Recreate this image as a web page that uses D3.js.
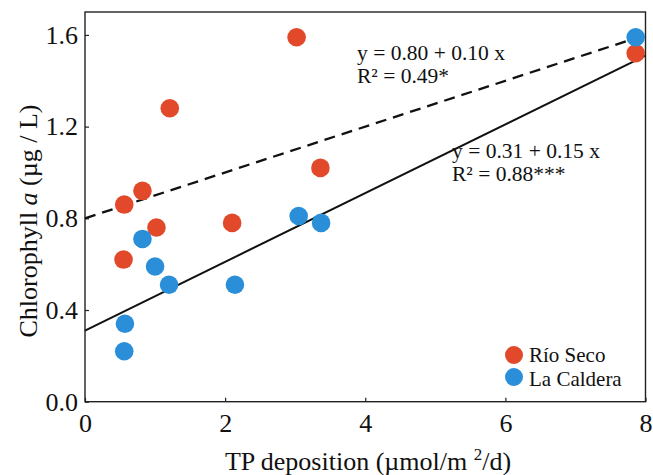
<!DOCTYPE html>
<html>
<head>
<meta charset="utf-8">
<script src="https://cdn.jsdelivr.net/npm/d3@7"></script>
<style>
  html, body { margin: 0; padding: 0; background: #fff; }
  svg { display: block; }
  text { font-family: "Liberation Serif", "Times New Roman", serif; fill: #111; }
</style>
</head>
<body>
<svg id="chart" width="653" height="475"></svg>
<script>
// TP deposition (x) and chlorophyll a (y) per lake
const rioSecoX = [0.55, 0.56, 0.82, 1.02, 1.21, 2.10, 3.02, 3.36, 7.86];
const rioSecoY = [0.62, 0.86, 0.92, 0.76, 1.28, 0.78, 1.59, 1.02, 1.52];
const calderaX = [0.57, 0.56, 0.82, 1.00, 1.20, 2.14, 3.05, 3.37, 7.86];
const calderaY = [0.34, 0.22, 0.71, 0.59, 0.51, 0.51, 0.81, 0.78, 1.59];

// Regression fits: [intercept, slope]
const fitRioSeco = [0.80, 0.10];
const fitCaldera = [0.31, 0.15];

const xTicks = [0, 2, 4, 6, 8];
const yTicks = [0.0, 0.4, 0.8, 1.2, 1.6];

const seriesNames = ["Río Seco", "La Caldera"];
const colors = { "Río Seco": "#e1492a", "La Caldera": "#2a8fd8" };

const svg = d3.select("#chart");
const plotLeft = 85, plotRight = 645.5, plotTop = 12, plotBottom = 401.7;

const x = d3.scaleLinear().domain([0, 8]).range([plotLeft, plotRight]);
const y = d3.scaleLinear().domain([0, 1.7]).range([plotBottom, plotTop]);

// Axes with short inward ticks
const xAxis = svg.append("g")
  .attr("transform", `translate(0,${plotBottom})`)
  .call(d3.axisBottom(x).tickValues(xTicks).tickFormat(d3.format("d"))
    .tickSizeInner(-4).tickSizeOuter(0).tickPadding(12));
const yAxis = svg.append("g")
  .attr("transform", `translate(${plotLeft},0)`)
  .call(d3.axisLeft(y).tickValues(yTicks).tickFormat(d3.format(".1f"))
    .tickSizeInner(-4).tickSizeOuter(0).tickPadding(7));

[xAxis, yAxis].forEach(g => {
  g.attr("font-family", null);
  g.select(".domain").remove();
  g.selectAll(".tick line").attr("stroke", "#222").attr("stroke-width", 1.2);
  g.selectAll(".tick text")
    .style("font-family", '"Liberation Serif", "Times New Roman", serif')
    .attr("font-size", 26).attr("fill", "#111");
});

// Frame
svg.append("rect")
  .attr("x", plotLeft).attr("y", plotTop)
  .attr("width", plotRight - plotLeft).attr("height", plotBottom - plotTop)
  .attr("fill", "none").attr("stroke", "#222").attr("stroke-width", 1.4);

// Regression lines
const line = d3.line().x(d => x(d[0])).y(d => y(d[1]));
const fitPts = f => [0, 8].map(v => [v, f[0] + f[1] * v]);

svg.append("path")
  .datum(fitPts(fitRioSeco))
  .attr("d", line)
  .attr("fill", "none").attr("stroke", "#111")
  .attr("stroke-width", 2.3).attr("stroke-dasharray", "11,7");

svg.append("path")
  .datum(fitPts(fitCaldera))
  .attr("d", line)
  .attr("fill", "none").attr("stroke", "#111")
  .attr("stroke-width", 2);

// Points
const rio = rioSecoX.map((v, i) => ({ x: v, y: rioSecoY[i], s: "Río Seco" }));
const cal = calderaX.map((v, i) => ({ x: v, y: calderaY[i], s: "La Caldera" }));

svg.append("g").selectAll("circle")
  .data(rio.concat(cal))
  .join("circle")
  .attr("cx", d => x(d.x)).attr("cy", d => y(d.y))
  .attr("r", 9.3)
  .attr("fill", d => colors[d.s]);

// Equation annotations
function eq(xp, yp, fit, r2) {
  const g = svg.append("g").attr("font-size", 21.5);
  g.append("text").attr("x", xp).attr("y", yp)
    .text(`y = ${fit[0].toFixed(2)} + ${fit[1].toFixed(2)} x`);
  g.append("text").attr("x", xp).attr("y", yp + 22.5)
    .text("R² = " + r2);
}
eq(357, 60, fitRioSeco, "0.49*");
eq(452, 158, fitCaldera, "0.88***");

// Legend
const leg = svg.append("g");
seriesNames.forEach((name, i) => {
  leg.append("circle").attr("cx", 514).attr("cy", 355 + i * 22)
    .attr("r", 9).attr("fill", colors[name]);
  leg.append("text").attr("x", 529).attr("y", 362 + i * 23.5)
    .attr("font-size", 21).text(name);
});

// Axis titles
const xt = svg.append("text")
  .attr("x", 368).attr("y", 470)
  .attr("text-anchor", "middle").attr("font-size", 26);
xt.append("tspan").text("TP deposition (µmol/m ");
xt.append("tspan").attr("font-size", 17).attr("dy", -10).text("2");
xt.append("tspan").attr("dy", 10).text("/d)");

const yt = svg.append("text")
  .attr("transform", "translate(37,221) rotate(-90)")
  .attr("text-anchor", "middle").attr("font-size", 26);
yt.append("tspan").text("Chlorophyll ");
yt.append("tspan").attr("font-style", "italic").text("a");
yt.append("tspan").text(" (µg / L)");
</script>
</body>
</html>
